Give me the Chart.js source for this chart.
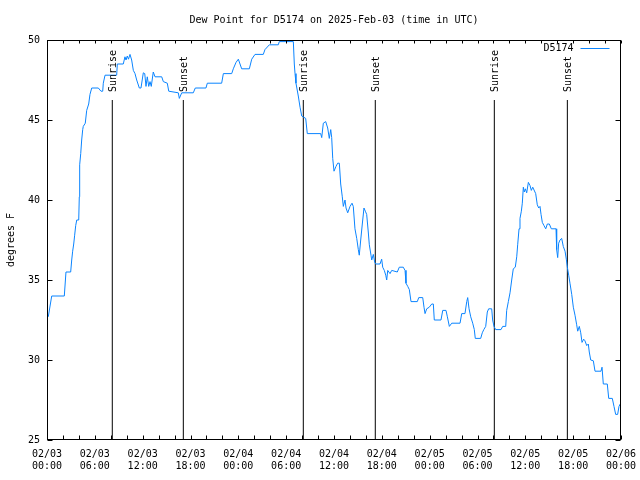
<!DOCTYPE html>
<html>
<head>
<meta charset="utf-8">
<script src="https://cdn.jsdelivr.net/npm/chart.js@4.4.1/dist/chart.umd.min.js"></script>
<style>
body { margin: 0; background: #fff; }
</style>
</head>
<body>
<canvas id="dew-chart" width="640" height="480"></canvas>
<script>
// hours since 02/03 00:00 UTC
const hours = [
0.16, 0.59, 2.17, 2.38, 2.97, 3.10, 3.22, 3.35, 3.47, 3.60, 3.73, 3.98, 4.05, 4.10, 4.23, 4.35, 4.48, 4.55, 4.80, 4.98,
5.23, 5.39, 5.61, 6.44, 6.77, 6.99, 7.06, 7.28, 8.74, 8.82, 9.57, 9.78, 9.91, 10.07, 10.22, 10.41, 10.62, 10.83, 11.04, 11.25,
11.58, 11.79, 12.08, 12.26, 12.42, 12.58, 12.76, 12.92, 13.08, 13.33, 13.55, 14.39, 14.59, 15.09, 15.27, 16.47, 16.60, 16.90, 18.35, 18.60,
19.94, 20.11, 21.91, 22.12, 23.17, 23.37, 23.71, 24.00, 24.42, 25.38, 25.68, 26.09, 27.13, 27.34, 27.89, 29.01, 29.14, 30.90, 31.02, 31.11,
31.23, 31.52, 31.74, 31.95, 32.11, 32.45, 32.65, 34.33, 34.46, 34.66, 34.96, 35.21, 35.41, 35.59, 35.71, 35.84, 36.00, 36.25, 36.46, 36.67,
36.84, 37.04, 37.17, 37.38, 37.51, 37.72, 38.01, 38.26, 38.42, 38.63, 38.85, 39.05, 39.17, 39.35, 39.55, 39.76, 39.93, 40.10, 40.30, 40.43,
40.64, 40.73, 40.93, 41.11, 41.23, 41.77, 41.98, 42.11, 42.31, 42.49, 42.61, 42.74, 43.03, 43.24, 43.94, 44.19, 44.69, 44.91, 45.03, 45.25,
45.45, 45.66, 46.45, 46.63, 47.13, 47.29, 47.42, 47.63, 47.95, 48.26, 48.46, 48.58, 49.42, 49.64, 50.05, 50.22, 50.47, 50.77, 51.81, 52.02,
52.43, 52.65, 52.77, 52.94, 53.15, 53.40, 53.60, 53.72, 54.40, 54.60, 54.79, 55.03, 55.23, 55.40, 55.78, 55.90, 56.07, 56.28, 56.95, 57.16,
57.54, 57.66, 57.87, 58.08, 58.29, 58.49, 58.74, 58.92, 59.04, 59.21, 59.33, 59.50, 59.62, 59.75, 59.87, 60.00, 60.17, 60.38, 60.59, 60.75,
60.93, 61.30, 61.50, 61.68, 61.84, 61.97, 62.13, 62.34, 62.56, 62.76, 63.01, 63.26, 63.85, 63.93, 64.06, 64.18, 64.35, 64.56, 64.76, 64.98,
65.14, 65.27, 65.44, 65.60, 65.82, 66.02, 66.23, 66.44, 66.57, 66.77, 66.95, 67.11, 67.32, 67.48, 67.70, 67.90, 68.02, 68.20, 68.53, 68.74,
69.49, 69.62, 69.78, 70.28, 70.46, 70.91, 71.12, 71.33, 71.58, 71.75, 71.96
];
const dewPoint = [
32.7, 34.0, 34.0, 35.5, 35.5, 36.25, 36.8, 37.25, 37.8, 38.4, 38.75, 38.75, 40.2, 42.2, 42.9, 43.75, 44.4, 44.6, 44.8, 45.6,
46.0, 46.6, 47.0, 47.0, 46.8, 46.8, 47.3, 47.8, 47.8, 48.5, 48.5, 48.95, 48.75, 49.0, 48.8, 49.1, 48.75, 48.1, 47.9, 47.5,
47.0, 47.0, 47.95, 47.9, 47.1, 47.7, 47.1, 47.4, 47.1, 48.0, 47.7, 47.7, 47.4, 47.3, 46.8, 46.7, 46.35, 46.7, 46.7, 47.0,
47.0, 47.3, 47.3, 47.9, 47.9, 48.2, 48.6, 48.8, 48.2, 48.2, 48.8, 49.1, 49.1, 49.4, 49.7, 49.7, 49.9, 49.9, 48.5, 47.9,
47.3, 46.5, 45.8, 45.25, 45.2, 45.1, 44.15, 44.15, 43.9, 44.8, 44.9, 44.5, 43.85, 44.4, 43.9, 42.6, 41.8, 42.1, 42.3, 42.3,
41.0, 40.2, 39.6, 40.0, 39.5, 39.2, 39.6, 39.8, 39.6, 38.2, 37.6, 36.9, 36.55, 37.5, 38.5, 39.5, 39.3, 39.1, 38.0, 37.2,
36.55, 36.25, 36.6, 36.1, 36.0, 36.0, 36.3, 35.8, 35.6, 35.3, 35.0, 35.6, 35.4, 35.6, 35.5, 35.8, 35.8, 35.6, 34.8, 34.6,
34.4, 33.65, 33.65, 33.9, 33.9, 33.3, 32.9, 33.2, 33.3, 33.5, 33.5, 32.5, 32.5, 33.1, 33.1, 32.7, 32.1, 32.3, 32.3, 32.9,
32.9, 33.65, 33.9, 33.2, 32.7, 32.3, 31.9, 31.35, 31.35, 31.7, 31.9, 32.1, 33.0, 33.2, 33.2, 32.5, 32.1, 31.9, 31.9, 32.1,
32.1, 33.1, 33.65, 34.2, 35.0, 35.7, 35.8, 36.45, 37.2, 38.2, 38.85, 39.3, 39.8, 40.8, 40.5, 40.7, 40.45, 41.1, 40.9, 40.6,
40.8, 40.4, 39.7, 39.5, 39.6, 39.1, 38.6, 38.4, 38.2, 38.5, 38.5, 38.2, 38.2, 36.9, 36.4, 37.3, 37.5, 37.6, 37.1, 36.8,
36.3, 35.8, 35.3, 34.8, 34.1, 33.3, 32.8, 32.2, 31.8, 32.1, 31.7, 31.1, 31.3, 31.2, 30.9, 31.0, 30.5, 30.0, 29.95, 29.3,
29.3, 29.55, 28.5, 28.5, 27.6, 27.6, 27.1, 26.6, 26.6, 27.1, 27.3
];

const eventHours = [8.19, 17.10, 32.15, 41.18, 56.11, 65.27];
const eventNames = ['Sunrise', 'Sunset', 'Sunrise', 'Sunset', 'Sunrise', 'Sunset'];
const eventTop = 46.25; // where the marker lines stop

const tickDates = ['02/03','02/03','02/03','02/03','02/04','02/04','02/04','02/04','02/05','02/05','02/05','02/05','02/06'];
const tickTimes = ['00:00','06:00','12:00','18:00','00:00','06:00','12:00','18:00','00:00','06:00','12:00','18:00','00:00'];

const stationName = 'D5174';
const lineColor = '#0a84ff';
const monoFont = "'DejaVu Sans Mono', monospace";

Chart.defaults.font.family = monoFont;
Chart.defaults.font.size = 10;
Chart.defaults.color = '#000';

// border box, inward ticks, sunrise/sunset labels and the key
const gnuplotFrame = {
  id: 'gnuplotFrame',
  beforeDraw(chart) {
    // centre the title over the plot area like gnuplot does
    const tb = chart.titleBlock;
    if (tb) {
      tb.left = chart.chartArea.left;
      tb.right = chart.chartArea.right;
      tb.width = tb.right - tb.left;
    }
  },
  afterDraw(chart) {
    const {ctx, chartArea: a, scales: {x, y}} = chart;
    const L = Math.round(a.left) + 0.5, R = Math.round(a.right) - 0.5;
    const T = Math.round(a.top) + 0.5, B = Math.round(a.bottom) - 0.5;
    ctx.save();
    ctx.strokeStyle = '#000';
    ctx.lineWidth = 1;
    ctx.strokeRect(L, T, R - L, B - T);

    ctx.beginPath();
    for (let h = 0; h <= 72; h += 2) {
      const px = Math.round(x.getPixelForValue(h)) + 0.5;
      ctx.moveTo(px, B); ctx.lineTo(px, B - 4);
      ctx.moveTo(px, T); ctx.lineTo(px, T + 3);
    }
    for (let v = 25; v <= 50; v += 5) {
      const py = Math.round(y.getPixelForValue(v)) + 0.5;
      ctx.moveTo(L, py); ctx.lineTo(L + 5, py);
      ctx.moveTo(R, py); ctx.lineTo(R - 5, py);
    }
    ctx.stroke();

    ctx.fillStyle = '#000';
    ctx.font = '10px ' + monoFont;
    eventHours.forEach((h, i) => {
      const px = x.getPixelForValue(h);
      const py = y.getPixelForValue(eventTop) - 8;
      ctx.save();
      ctx.translate(px + 1, py);
      ctx.rotate(-Math.PI / 2);
      ctx.textAlign = 'left';
      ctx.textBaseline = 'middle';
      ctx.fillText(eventNames[i], 0, 0);
      ctx.restore();
    });

    // key, top right inside the plot
    ctx.textAlign = 'right';
    ctx.textBaseline = 'middle';
    ctx.fillText(stationName, R - 47, T + 8);
    ctx.strokeStyle = lineColor;
    ctx.beginPath();
    ctx.moveTo(R - 40, T + 8);
    ctx.lineTo(R - 11, T + 8);
    ctx.stroke();
    ctx.restore();
  }
};

const datasets = [{
  label: stationName,
  data: hours.map((h, i) => ({x: h, y: dewPoint[i]})),
  borderColor: lineColor,
  borderWidth: 1,
  pointRadius: 0,
  tension: 0
}];
eventHours.forEach((h, i) => {
  datasets.push({
    label: eventNames[i],
    data: [{x: h, y: 25}, {x: h, y: eventTop}],
    borderColor: '#000',
    borderWidth: 1,
    pointRadius: 0
  });
});

new Chart(document.getElementById('dew-chart'), {
  type: 'line',
  data: {datasets},
  plugins: [gnuplotFrame],
  options: {
    responsive: false,
    animation: false,
    layout: {padding: {right: 19}},
    plugins: {
      legend: {display: false},
      tooltip: {enabled: false},
      title: {
        display: true,
        text: 'Dew Point for D5174 on 2025-Feb-03 (time in UTC)',
        font: {size: 10, weight: 'normal'},
        color: '#000',
        padding: {top: 14, bottom: 14}
      }
    },
    scales: {
      x: {
        type: 'linear',
        min: 0,
        max: 72,
        grid: {display: false, drawTicks: false},
        border: {display: false},
        ticks: {
          stepSize: 6,
          autoSkip: false,
          maxRotation: 0,
          padding: 8,
          callback: (v) => [tickDates[v / 6], tickTimes[v / 6]]
        },
        afterFit: (s) => { s.height = 40; s.paddingLeft = 0; s.paddingRight = 0; }
      },
      y: {
        min: 25,
        max: 50,
        grid: {display: false, drawTicks: false},
        border: {display: false},
        ticks: {stepSize: 5, padding: 7},
        title: {display: true, text: 'degrees F', padding: {top: 5, bottom: 0}},
        afterFit: (s) => { s.width = 47; }
      }
    }
  }
});
</script>
</body>
</html>
